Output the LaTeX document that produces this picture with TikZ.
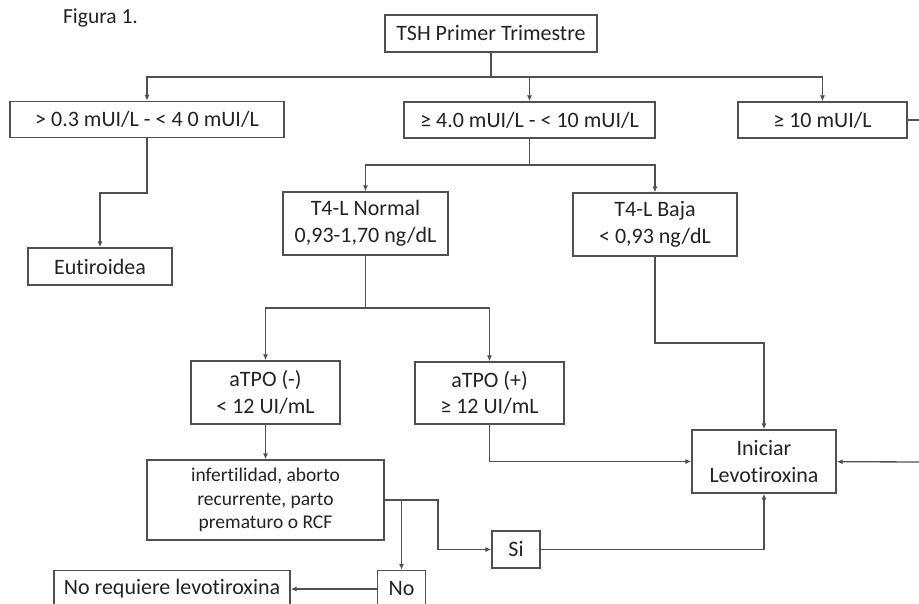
\documentclass[tikz,border=0pt]{standalone}
\usepackage{fontspec}
\setmainfont{Carlito}[Ligatures=NoCommon]
\usetikzlibrary{arrows.meta}
\definecolor{inkline}{RGB}{80,80,80}
\definecolor{inktext}{RGB}{35,35,35}
\begin{document}
\begin{tikzpicture}[x=1pt,y=-1pt,
  box/.style={draw=inkline, line width=1.3pt, fill=white, inner sep=0pt,
    text=inktext, align=center, font=\fontsize{22}{26.5}\selectfont},
  wire/.style={draw=inkline, line width=1.3pt},
  arr/.style={wire, -{Latex[length=6pt,width=5pt]}}]
\useasboundingbox (0,0) rectangle (919,604);
\clip (0,0) rectangle (919,604);
\fill[white] (0,0) rectangle (919,604);

% caption
\node[anchor=base, text=inktext, font=\fontsize{21.5}{26}\selectfont] (fig) at (100.5,24) {Figura 1.};

% boxes
\node[box, minimum width=212pt, minimum height=37pt] (tsh) at (491,33.5) {TSH Primer Trimestre};
\node[box, minimum width=274pt, minimum height=36pt] (b1) at (147,119.5) {> 0.3 mUI/L - < 4 0 mUI/L};
\node[box, minimum width=251pt, minimum height=36pt] (b2) at (529.5,120) {≥ 4.0 mUI/L - < 10 mUI/L};
\node[box, minimum width=169pt, minimum height=36pt] (b3) at (822.5,120) {≥ 10 mUI/L};
\node[box, minimum width=144pt, minimum height=37pt] (eut) at (100,266.5) {Eutiroidea};
\node[box, minimum width=165pt, minimum height=63pt] (t4n) at (365.5,223.5) {T4-L Normal\\0,93-1,70 ng/dL};
\node[box, minimum width=164pt, minimum height=63pt] (t4b) at (655,224.5) {T4-L Baja\\< 0,93 ng/dL};
\node[box, minimum width=149pt, minimum height=63pt] (atn) at (265.5,392.5) {aTPO (-)\\< 12 UI/mL};
\node[box, minimum width=149pt, minimum height=62pt] (atp) at (489.5,393) {aTPO (+)\\≥ 12 UI/mL};
\node[box, minimum width=144pt, minimum height=63pt] (ini) at (764,461.5) {Iniciar\\Levotiroxina};
\node[box, minimum width=237pt, minimum height=80pt, font=\fontsize{19.5}{23.5}\selectfont] (inf) at (265.5,500)
  {infertilidad, aborto\\recurrente, parto\\prematuro o RCF};
\node[box, minimum width=48pt, minimum height=37pt] (si) at (516,549.5) {Si};
\node[box, minimum width=48pt, minimum height=37pt] (no) at (401.5,589) {No};
\node[box, minimum width=236pt, minimum height=37pt] (noreq) at (172,589) {No requiere levotiroxina};

% junction points
\coordinate (j1) at (491,77);
\coordinate (k1) at (147,193);
\coordinate (k2) at (529.5,165);
\coordinate (k3) at (365.5,308);
\coordinate (k4) at (655,343);
\coordinate (k5) at (401.5,500);
\coordinate (k6) at (438,500);
\coordinate (r1) at (930,120);
\coordinate (r2) at (930,462);

% connectors
\draw[wire] (tsh) -- (j1);
\draw[arr] (j1) -| (b1);
\draw[arr] (j1) -| (b2);
\draw[arr] (j1) -| (b3);
\draw[wire] (b3) -- (r1);
\draw[arr] (b1) -- (k1) -| (eut);
\draw[wire] (b2) -- (k2);
\draw[arr] (k2) -| (t4n);
\draw[arr] (k2) -| (t4b);
\draw[wire] (t4n) -- (k3);
\draw[arr] (k3) -| (atn);
\draw[arr] (k3) -| (atp);
\draw[arr] (atn) -- (inf);
\draw[arr] (atp) |- (ini);
\draw[arr] (t4b) -- (k4) -| (ini);
\draw[arr] (r2) -- (ini);
\draw[arr] (inf.east) -- (k6) |- (si);
\draw[arr] (k5) -- (no);
\draw[arr] (si) -| (ini);
\draw[arr] (no) -- (noreq);
\end{tikzpicture}
\end{document}
